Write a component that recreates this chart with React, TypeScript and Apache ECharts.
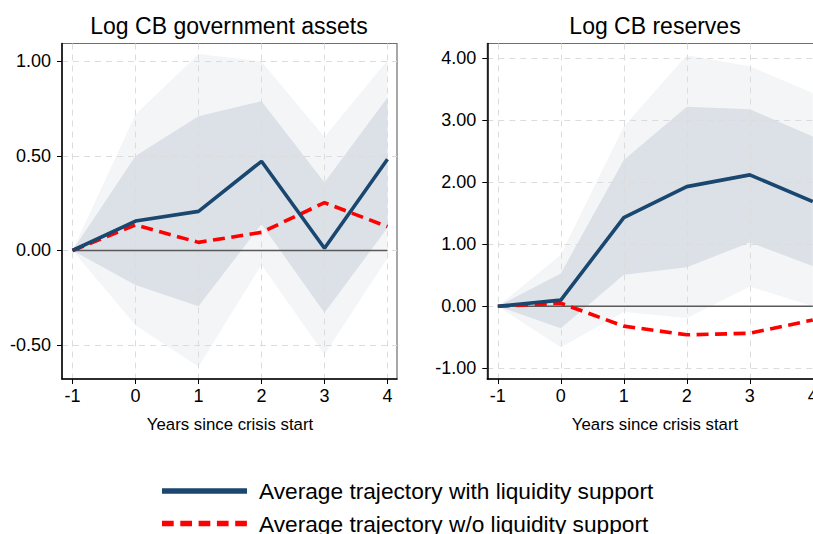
import React, { useEffect, useRef } from "react";
import * as echarts from "echarts";

// ---- data ----
const years = [-1, 0, 1, 2, 3, 4];

// Panel 1: Log CB government assets
const govWith = [0, 0.156, 0.207, 0.472, 0.012, 0.483];
const govWithout = [0, 0.135, 0.043, 0.096, 0.253, 0.126];
const govInnerHi = [0, 0.5, 0.71, 0.79, 0.36, 0.81];
const govInnerLo = [0, -0.183, -0.295, 0.14, -0.33, 0.12];
const govOuterHi = [0, 0.72, 1.04, 1.0, 0.6, 1.007];
const govOuterLo = [0, -0.395, -0.615, -0.075, -0.55, -0.04];
const govTicks = [-0.5, 0, 0.5, 1];

// Panel 2: Log CB reserves
const resWith = [0, 0.1, 1.43, 1.93, 2.12, 1.69];
const resWithout = [0, 0.05, -0.32, -0.46, -0.435, -0.22];
const resInnerHi = [0, 0.53, 2.36, 3.22, 3.18, 2.74];
const resInnerLo = [0, -0.355, 0.51, 0.63, 1.03, 0.65];
const resOuterHi = [0, 0.83, 2.9, 4.05, 3.87, 3.44];
const resOuterLo = [0, -0.66, -0.09, -0.19, 0.32, 0.0];
const resTicks = [-1, 0, 1, 2, 3, 4];

const titles = ["Log CB government assets", "Log CB reserves"];
const xName = "Years since crisis start";
const legendNames = [
  "Average trajectory with liquidity support",
  "Average trajectory w/o liquidity support",
];

const FONT = "'Liberation Sans', Arial, Helvetica, sans-serif";
const NAVY = "#1a476f";
const RED = "#ff0000";
const INNER = "#dbe1e7";
const OUTER = "#f3f5f7";
const GRIDC = "#dcdcdc";

function band(idx: number, lo: number[], hi: number[], color: string) {
  return {
    type: "custom",
    xAxisIndex: idx,
    yAxisIndex: idx,
    z: -1,
    silent: true,
    data: years.map((x, i) => [x, lo[i], hi[i]]),
    encode: { x: 0, y: [1, 2] },
    renderItem: (params: any, api: any) => {
      if (params.dataIndex !== 0) return null;
      const top = years.map((x, i) => api.coord([x, hi[i]]));
      const bot = years.map((x, i) => api.coord([x, lo[i]])).reverse();
      return {
        type: "polygon",
        shape: { points: top.concat(bot) },
        style: { fill: color },
        silent: true,
      };
    },
  };
}

function line(idx: number, vals: number[], color: string, dashed: boolean) {
  return {
    type: "line",
    xAxisIndex: idx,
    yAxisIndex: idx,
    symbol: "none",
    silent: true,
    z: 3,
    data: years.map((x, i) => [x, vals[i]]),
    lineStyle: { color, width: 3.6, type: dashed ? [12, 6.5] : "solid", cap: "butt" },
  };
}

function zeroLine(idx: number) {
  return {
    type: "line",
    xAxisIndex: idx,
    yAxisIndex: idx,
    symbol: "none",
    silent: true,
    z: 2,
    data: [
      [years[0], 0],
      [years[years.length - 1], 0],
    ],
    lineStyle: { color: "#5a5a5a", width: 1.5 },
  };
}

function xAxis(idx: number) {
  return {
    type: "value",
    gridIndex: idx,
    min: -1.1667,
    max: 4.151,
    axisLine: { show: true, onZero: false, lineStyle: { color: "#000", width: 1.5 } },
    axisTick: { show: true, length: 5, customValues: years, lineStyle: { color: "#000", width: 1 } },
    axisLabel: {
      customValues: years,
      fontSize: 18,
      color: "#000",
      margin: 8,
      fontFamily: FONT,
      formatter: (v: number) => String(v),
    },
    splitLine: { show: true, lineStyle: { color: GRIDC, width: 1, type: [6, 5] } },
  };
}

function yAxis(idx: number, min: number, max: number, ticks: number[]) {
  return {
    type: "value",
    gridIndex: idx,
    min,
    max,
    axisLine: { show: true, onZero: false, lineStyle: { color: "#000", width: 1.5 } },
    axisTick: { show: true, length: 5, customValues: ticks, lineStyle: { color: "#000", width: 1 } },
    axisLabel: {
      customValues: ticks,
      fontSize: 18,
      color: "#000",
      margin: 11,
      fontFamily: FONT,
      formatter: (v: number) => v.toFixed(2),
    },
    splitLine: { show: true, lineStyle: { color: GRIDC, width: 1, type: [6, 5] } },
  };
}

export default function App() {
  const ref = useRef<HTMLDivElement>(null);

  useEffect(() => {
    if (!ref.current) return;
    const chart = echarts.init(ref.current, null, { renderer: "svg" });
    const gridCommon = {
      show: true,
      borderColor: "#6e6e6e",
      borderWidth: 1.2,
      backgroundColor: "transparent",
      top: 43.5,
      height: 335.5,
      width: 335,
    };
    const option: any = {
      animation: false,
      backgroundColor: "#ffffff",
      textStyle: { fontFamily: FONT },
      grid: [
        { ...gridCommon, left: 62 },
        { ...gridCommon, left: 487.3 },
      ],
      xAxis: [xAxis(0), xAxis(1)],
      yAxis: [
        yAxis(0, -0.6799, 1.0952, govTicks),
        yAxis(1, -1.1726, 4.2387, resTicks),
      ],
      series: [
        band(0, govOuterLo, govOuterHi, OUTER),
        band(0, govInnerLo, govInnerHi, INNER),
        zeroLine(0),
        line(0, govWithout, RED, true),
        line(0, govWith, NAVY, false),
        band(1, resOuterLo, resOuterHi, OUTER),
        band(1, resInnerLo, resInnerHi, INNER),
        zeroLine(1),
        line(1, resWithout, RED, true),
        line(1, resWith, NAVY, false),
      ],
      graphic: [
        {
          type: "text",
          x: 229,
          y: 26,
          style: { text: titles[0], font: `23px ${FONT}`, fill: "#000", textAlign: "center", textVerticalAlign: "middle" },
        },
        {
          type: "text",
          x: 655,
          y: 26,
          style: { text: titles[1], font: `23px ${FONT}`, fill: "#000", textAlign: "center", textVerticalAlign: "middle" },
        },
        {
          type: "text",
          x: 230,
          y: 424,
          style: { text: xName, font: `16.8px ${FONT}`, fill: "#000", textAlign: "center", textVerticalAlign: "middle" },
        },
        {
          type: "text",
          x: 655,
          y: 424,
          style: { text: xName, font: `16.8px ${FONT}`, fill: "#000", textAlign: "center", textVerticalAlign: "middle" },
        },
        {
          type: "line",
          shape: { x1: 162, y1: 491, x2: 247, y2: 491 },
          style: { stroke: NAVY, lineWidth: 5.5 },
        },
        {
          type: "line",
          shape: { x1: 162, y1: 523.5, x2: 247, y2: 523.5 },
          style: { stroke: RED, lineWidth: 5.5, lineDash: [11.7, 6.6] },
        },
        {
          type: "text",
          x: 259,
          y: 491,
          style: { text: legendNames[0], font: `22.7px ${FONT}`, fill: "#000", textAlign: "left", textVerticalAlign: "middle" },
        },
        {
          type: "text",
          x: 259,
          y: 523.5,
          style: { text: legendNames[1], font: `22.7px ${FONT}`, fill: "#000", textAlign: "left", textVerticalAlign: "middle" },
        },
      ],
    };
    chart.setOption(option);
    return () => chart.dispose();
  }, []);

  return (
    <div style={{ position: "absolute", left: 0, top: 0, width: 813, height: 534, overflow: "hidden" }}>
      <div ref={ref} style={{ width: 840, height: 534 }} />
    </div>
  );
}
